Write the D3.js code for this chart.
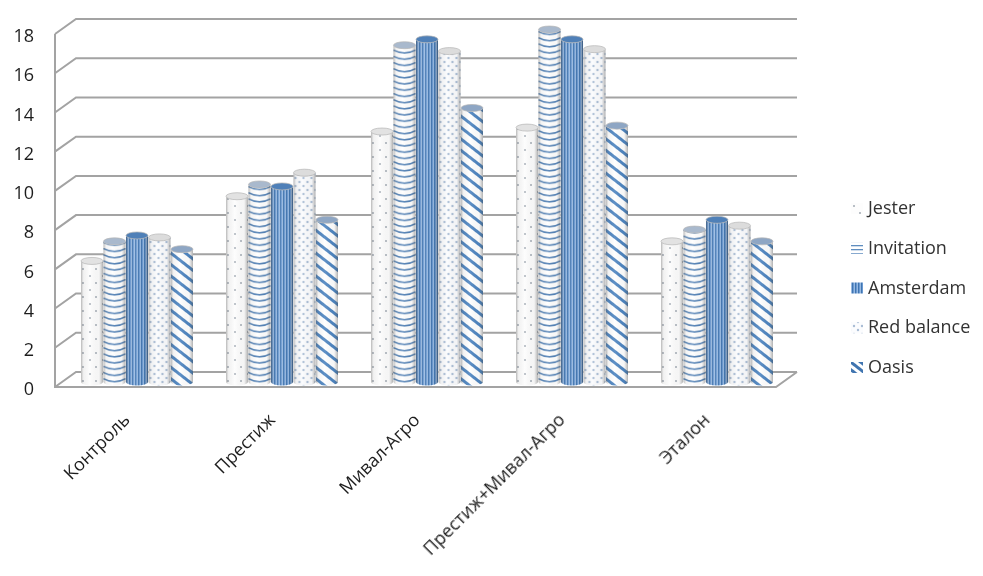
<!DOCTYPE html>
<html><head><meta charset="utf-8">
<script src="https://cdn.jsdelivr.net/npm/d3@7"></script>
<style>html,body{margin:0;background:#fff}svg{display:block}</style></head>
<body><svg id="c" width="983" height="576"></svg>
<script>
const categories=["Контроль","Престиж","Мивал-Агро","Престиж+Мивал-Агро","Эталон"];
const seriesNames=["Jester","Invitation","Amsterdam","Red balance","Oasis"];
const jester=[6.3,9.6,12.9,13.1,7.3];
const invitation=[7.3,10.2,17.3,18.1,7.9];
const amsterdam=[7.6,10.1,17.6,17.6,8.4];
const redBalance=[7.5,10.8,17.0,17.1,8.1];
const oasis=[6.9,8.4,14.1,13.2,7.3];
const seriesValues=[jester,invitation,amsterdam,redBalance,oasis];
const yTicks=[0,2,4,6,8,10,12,14,16,18];

const FONT='"Open Sans",sans-serif';
const svg=d3.select("#c");
const defs=svg.append("defs");
const depthX=21,depthY=15,gridCol="#a3a3a3";
const x=d3.scaleBand().domain(categories).range([55,780]);
const xInner=d3.scaleBand().domain(seriesNames).range([0,112]).paddingInner(0.02);
const y=d3.scaleLinear().domain([0,18]).range([387,34]);
const W=xInner.bandwidth();

function pat(id,w,h,bg,draw){const p=defs.append("pattern").attr("id",id).attr("patternUnits","userSpaceOnUse").attr("width",w).attr("height",h);
  p.append("rect").attr("width",w).attr("height",h).attr("fill",bg);draw(p);return p;}
pat("p0",13,14,"#fdfdfd",p=>{[[2,3],[9,10]].forEach(d=>p.append("circle").attr("cx",d[0]).attr("cy",d[1]).attr("r",1).attr("fill","#a3abb4"));});
pat("p1",W,6.2,"#ffffff",p=>{p.append("path").attr("d",`M0,0.5Q${W/2},6.5 ${W},0.5`).attr("fill","none").attr("stroke","#4f7fb5").attr("stroke-width",1.5);});
pat("p1L",12,4,"#ffffff",p=>{p.append("rect").attr("y",1).attr("width",12).attr("height",1.3).attr("fill","#5f8dbf");});
pat("p2",3,8,"#6f9dd6",p=>{p.append("rect").attr("width",1.1).attr("height",8).attr("fill","#3f74b0");p.append("rect").attr("x",2).attr("width",0.7).attr("height",8).attr("fill","#a9c6e8");});
pat("p3",8,8,"#fbfcfe",p=>{[[2,2],[6,6]].forEach(d=>p.append("circle").attr("cx",d[0]).attr("cy",d[1]).attr("r",1.2).attr("fill","#a9bdd5"));});
pat("p4",9,9,"#fff",p=>{p.append("rect").attr("width",9).attr("height",3).attr("fill","#4a82bf");}).attr("patternTransform","rotate(38)");
pat("p4L",6,6,"#fff",p=>{p.append("rect").attr("width",6).attr("height",3).attr("fill","#3f74b0");}).attr("patternTransform","rotate(38)");
const g=defs.append("linearGradient").attr("id","shade");
[[0,"#555",0.42],[0.12,"#888",0.1],[0.4,"#fff",0.12],[0.82,"#666",0.05],[1,"#444",0.42]].forEach(d=>g.append("stop").attr("offset",d[0]).attr("stop-color",d[1]).attr("stop-opacity",d[2]));
const topFill=["#e2e2e2","#a9b9cd","#4f80b8","#dcdcdc","#8ea6c4"];
const blur=defs.append("filter").attr("id","soft");blur.append("feGaussianBlur").attr("stdDeviation",0.45);

const root=svg.append("g").attr("filter","url(#soft)");
const grid=root.append("g").attr("fill","none").attr("stroke",gridCol).attr("stroke-width",2);
yTicks.forEach(t=>{const py=y(t);
  grid.append("path").attr("d",`M55,${py}L${55+depthX},${py-depthY}H797`);});
grid.append("path").attr("d",`M55,${y(18)}V${y(0)}H776L797,${y(0)-depthY}`);

const axis=root.append("g").attr("transform","translate(34,2)").call(d3.axisLeft(y).tickValues(yTicks).tickSize(0).tickPadding(0));
axis.select(".domain").remove();
axis.selectAll("text").attr("font-family",FONT).attr("font-size",18).attr("fill","#1f1f1f");

function cyl(sel,w,top,bot,fill,topC){
  const rx=w/2,ry=3.5,cx=rx;
  const d=`M0,${top}V${bot}A${rx},${ry} 0 0 0 ${w},${bot}V${top}A${rx},${ry} 0 0 1 0,${top}Z`;
  sel.append("path").attr("d",d).attr("fill",fill);
  sel.append("path").attr("d",d).attr("fill","url(#shade)");
  sel.append("ellipse").attr("cx",cx).attr("cy",top).attr("rx",rx).attr("ry",ry).attr("fill",topC).attr("stroke","#b5b5b5").attr("stroke-width",0.7);
}
const offX=26;
categories.forEach((c,i)=>{
  seriesNames.forEach((s,k)=>{
    const left=x(c)+offX+xInner(s);
    const v=seriesValues[k][i];
    const top=y(v)-2.5, bot=y(0)-5;
    cyl(root.append("g").attr("transform",`translate(${left},0)`),W,top,bot,`url(#p${k})`,topFill[k]);
  });
  root.append("text").attr("font-family",FONT).attr("font-size",18).attr("fill","#1f1f1f")
    .attr("text-anchor","end").attr("transform",`translate(${x(c)+offX+50},${421}) rotate(-45)`).text(c);
});

const legY=d3.scalePoint().domain(seriesNames).range([208,367]);
const legFill=["p0","p1L","p2","p3","p4L"];
seriesNames.forEach((s,k)=>{
  const ly=legY(s);
  root.append("rect").attr("x",851).attr("y",ly-5).attr("width",12).attr("height",11).attr("fill",`url(#${legFill[k]})`);
  root.append("text").attr("x",868).attr("y",ly+6).attr("font-family",FONT).attr("font-size",18).attr("fill","#333").text(s);
});
</script></body></html>
